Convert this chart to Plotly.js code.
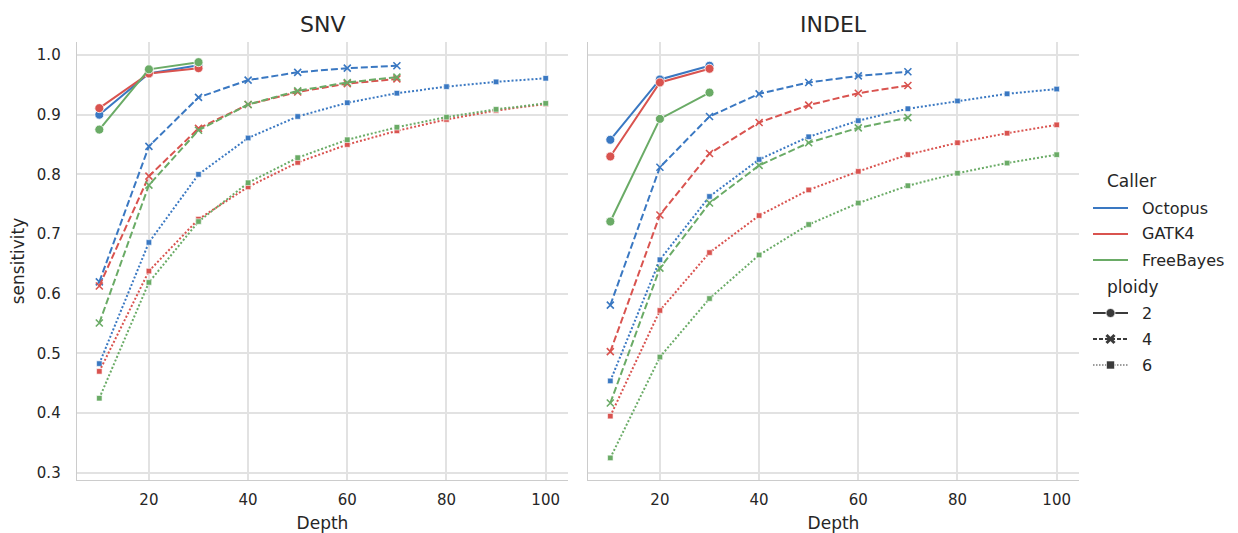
<!DOCTYPE html>
<html>
<head>
<meta charset="utf-8">
<script src="https://cdn.plot.ly/plotly-3.0.1.min.js"></script>
<style>html,body{margin:0;padding:0;background:#fff;}#chart{width:1238px;height:533px;}</style>
</head>
<body>
<div id="chart"></div>
<script>
// ---- data ----
const callers = ["Octopus", "GATK4", "FreeBayes"];
const ploidies = ["2", "4", "6"];
const panels = ["SNV", "INDEL"];
const depth2 = [10, 20, 30];
const depth4 = [10, 20, 30, 40, 50, 60, 70];
const depth6 = [10, 20, 30, 40, 50, 60, 70, 80, 90, 100];

// SNV
const snv_octopus_2 = [0.900, 0.969, 0.983];
const snv_gatk4_2 = [0.911, 0.969, 0.978];
const snv_freebayes_2 = [0.875, 0.976, 0.988];
const snv_octopus_4 = [0.620, 0.847, 0.929, 0.958, 0.971, 0.978, 0.982];
const snv_gatk4_4 = [0.613, 0.797, 0.877, 0.917, 0.938, 0.952, 0.960];
const snv_freebayes_4 = [0.551, 0.782, 0.874, 0.917, 0.940, 0.954, 0.963];
const snv_octopus_6 = [0.483, 0.686, 0.800, 0.861, 0.897, 0.920, 0.936, 0.947, 0.955, 0.961];
const snv_gatk4_6 = [0.470, 0.638, 0.725, 0.779, 0.820, 0.850, 0.873, 0.892, 0.907, 0.918];
const snv_freebayes_6 = [0.425, 0.619, 0.721, 0.786, 0.828, 0.858, 0.879, 0.896, 0.909, 0.919];

// INDEL
const indel_octopus_2 = [0.858, 0.959, 0.982];
const indel_gatk4_2 = [0.830, 0.954, 0.977];
const indel_freebayes_2 = [0.721, 0.893, 0.937];
const indel_octopus_4 = [0.581, 0.812, 0.897, 0.935, 0.954, 0.965, 0.972];
const indel_gatk4_4 = [0.503, 0.732, 0.835, 0.887, 0.916, 0.936, 0.949];
const indel_freebayes_4 = [0.417, 0.643, 0.752, 0.815, 0.853, 0.878, 0.895];
const indel_octopus_6 = [0.454, 0.657, 0.763, 0.825, 0.863, 0.890, 0.910, 0.923, 0.935, 0.943];
const indel_gatk4_6 = [0.395, 0.572, 0.669, 0.731, 0.774, 0.805, 0.833, 0.853, 0.869, 0.883];
const indel_freebayes_6 = [0.325, 0.494, 0.592, 0.665, 0.716, 0.752, 0.781, 0.802, 0.819, 0.833];

const yTicks = [0.3, 0.4, 0.5, 0.6, 0.7, 0.8, 0.9, 1.0];
const xTicks = [20, 40, 60, 80, 100];

// ---- styling ----
const colors = {"Octopus": "#3a78c2", "GATK4": "#d9534f", "FreeBayes": "#6aab66"};
const dashes = {"2": "solid", "4": "7px,3px", "6": "2px,2px"};
const depths = {"2": depth2, "4": depth4, "6": depth6};
const values = {
  SNV: {Octopus: {"2": snv_octopus_2, "4": snv_octopus_4, "6": snv_octopus_6},
        GATK4: {"2": snv_gatk4_2, "4": snv_gatk4_4, "6": snv_gatk4_6},
        FreeBayes: {"2": snv_freebayes_2, "4": snv_freebayes_4, "6": snv_freebayes_6}},
  INDEL: {Octopus: {"2": indel_octopus_2, "4": indel_octopus_4, "6": indel_octopus_6},
        GATK4: {"2": indel_gatk4_2, "4": indel_gatk4_4, "6": indel_gatk4_6},
        FreeBayes: {"2": indel_freebayes_2, "4": indel_freebayes_4, "6": indel_freebayes_6}}
};

function markerFor(p, c) {
  if (p === "2") return {symbol: "circle", size: 9, color: c, line: {color: "#fff", width: 0.8}};
  if (p === "4") return {symbol: "x-thin", size: 7, color: c, line: {color: c, width: 1.6}};
  return {symbol: "square", size: 5.5, color: c, line: {color: "#fff", width: 0.6}};
}

const traces = [];
panels.forEach((panel, pi) => {
  const xa = pi === 0 ? "x" : "x2";
  const ya = pi === 0 ? "y" : "y2";
  ploidies.forEach(p => {
    callers.forEach(cl => {
      traces.push({
        type: "scatter", mode: "lines+markers",
        x: depths[p], y: values[panel][cl][p],
        xaxis: xa, yaxis: ya,
        line: {color: colors[cl], width: 2, dash: dashes[p]},
        marker: markerFor(p, colors[cl]),
        showlegend: false, hoverinfo: "skip"
      });
    });
  });
});

const W = 1238, H = 533;
const px = v => v / W;
const py = v => 1 - v / H;

const font = "DejaVu Sans, sans-serif";
const axisCommon = {
  showgrid: true, gridcolor: "#e2e2e2", gridwidth: 2,
  showline: true, linecolor: "#cccccc", linewidth: 1.3,
  zeroline: false, ticks: "", tickfont: {family: font, size: 15, color: "#262626"},
  mirror: false
};

const layout = {
  width: W, height: H,
  margin: {l: 0, r: 0, t: 0, b: 0},
  paper_bgcolor: "#fff", plot_bgcolor: "#fff",
  showlegend: false,
  font: {family: font, color: "#262626"},
  xaxis: Object.assign({}, axisCommon, {domain: [px(77), px(568)], range: [5.5, 104.5],
    tickvals: xTicks, anchor: "y", ticklabelstandoff: 6,
    title: {text: "Depth", font: {family: font, size: 17, color: "#262626"}, standoff: 8}}),
  yaxis: Object.assign({}, axisCommon, {domain: [py(480), py(42)], range: [0.288, 1.0218],
    tickvals: yTicks, ticktext: yTicks.map(v => v.toFixed(1)), anchor: "x", ticklabelstandoff: 12,
    title: {text: "sensitivity", font: {family: font, size: 17, color: "#262626"}, standoff: 8}}),
  xaxis2: Object.assign({}, axisCommon, {domain: [px(588), px(1079)], range: [5.5, 104.5],
    tickvals: xTicks, anchor: "y2", ticklabelstandoff: 6,
    title: {text: "Depth", font: {family: font, size: 17, color: "#262626"}, standoff: 8}}),
  yaxis2: Object.assign({}, axisCommon, {domain: [py(480), py(42)], range: [0.288, 1.0218],
    tickvals: yTicks, showticklabels: false, anchor: "x2", matches: "y"}),
  annotations: [],
  shapes: []
};

// panel titles
[["SNV", (77 + 568) / 2], ["INDEL", (588 + 1079) / 2]].forEach(([t, cx]) => {
  layout.annotations.push({text: t, xref: "paper", yref: "paper", x: px(cx), y: py(25),
    xanchor: "center", yanchor: "middle", showarrow: false,
    font: {family: font, size: 22, color: "#262626"}});
});

// custom legend
const legX0 = 1093, legX1 = 1128, legText = 1140, legTitle = 1105;
const legFont = {family: font, size: 16, color: "#262626"};
function legTitleAt(t, y) {
  layout.annotations.push({text: t, xref: "paper", yref: "paper", x: px(legTitle), y: py(y),
    xanchor: "left", yanchor: "middle", showarrow: false, font: {family: font, size: 17, color: "#262626"}});
}
function legLabelAt(t, y) {
  layout.annotations.push({text: t, xref: "paper", yref: "paper", x: px(legText), y: py(y),
    xanchor: "left", yanchor: "middle", showarrow: false, font: legFont});
}
legTitleAt("Caller", 181);
callers.forEach((cl, i) => {
  const y = 208 + i * 26;
  layout.shapes.push({type: "line", xref: "paper", yref: "paper", x0: px(legX0), x1: px(legX1),
    y0: py(y), y1: py(y), line: {color: colors[cl], width: 2}});
  legLabelAt(cl, y);
});
legTitleAt("ploidy", 287);
ploidies.forEach((p, i) => {
  const y = 313 + i * 26;
  const dk = "#3a3a3a";
  layout.shapes.push({type: "line", xref: "paper", yref: "paper", x0: px(legX0), x1: px(legX1),
    y0: py(y), y1: py(y), line: {color: dk, width: p === "6" ? 1.2 : 1.8, dash: p === "2" ? "solid" : (p === "4" ? "4px,2px" : "1.5px,1.5px")}});
  const cx = (legX0 + legX1) / 2;
  if (p === "2") {
    layout.shapes.push({type: "circle", xref: "paper", yref: "paper", x0: px(cx - 4.5), x1: px(cx + 4.5),
      y0: py(y + 4.5), y1: py(y - 4.5), fillcolor: dk, line: {color: "#fff", width: 0.8}});
  } else if (p === "4") {
    const s = 4;
    layout.shapes.push({type: "path", xref: "paper", yref: "paper",
      path: `M ${px(cx - s)} ${py(y - s)} L ${px(cx + s)} ${py(y + s)} M ${px(cx - s)} ${py(y + s)} L ${px(cx + s)} ${py(y - s)}`,
      line: {color: dk, width: 3}});
  } else {
    layout.shapes.push({type: "rect", xref: "paper", yref: "paper", x0: px(cx - 4), x1: px(cx + 4),
      y0: py(y + 4), y1: py(y - 4), fillcolor: dk, line: {color: "#fff", width: 0.6}});
  }
  legLabelAt(p, y);
});

Plotly.newPlot("chart", traces, layout, {displayModeBar: false, staticPlot: true});
</script>
</body>
</html>
